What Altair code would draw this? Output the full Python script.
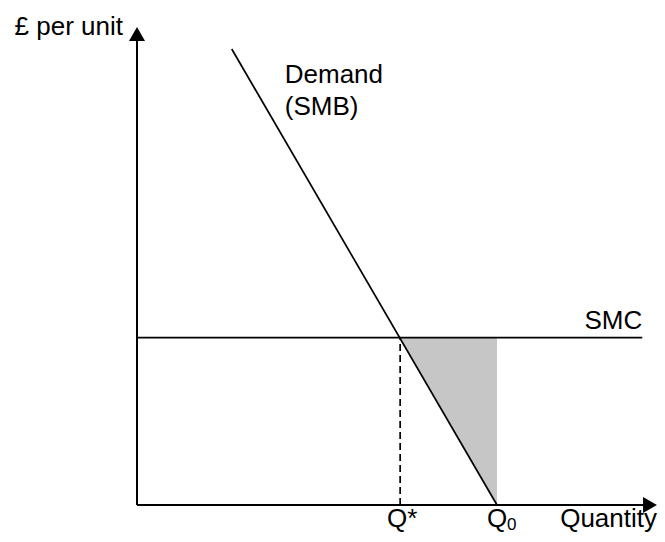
import altair as alt
import pandas as pd

# ---- data (economic units) ----
Q_MAX = 9.88          # end of quantity axis
P_MAX = 10.0          # end of price axis
Q_STAR = 5.0          # social optimum
Q_ZERO = 6.84         # market quantity where demand hits zero price
SMC = 3.5             # social marginal cost (flat)
SMC_END = 9.6         # extent of SMC line

demand_q = [1.8, 6.84]
demand_p = [9.54, 0.0]

shade_q = [Q_STAR, Q_ZERO]
shade_lo = [SMC, 0.0]
shade_hi = [SMC, SMC]

FONT = "Liberation Sans"
FS = 26

xs = alt.Scale(domain=[0, Q_MAX], nice=False, zero=False)
ys = alt.Scale(domain=[0, P_MAX], nice=False, zero=False)

def X(field, **kw):
    return alt.X(field, type="quantitative", scale=xs, axis=None, **kw)

def Y(field, **kw):
    return alt.Y(field, type="quantitative", scale=ys, axis=None, **kw)

# shaded deadweight-loss triangle
shade = alt.Chart(pd.DataFrame({"q": shade_q, "lo": shade_lo, "hi": shade_hi})).mark_area(
    color="#c6c6c6", opacity=1
).encode(x=X("q"), y=Y("lo"), y2="hi")

# demand line
demand = alt.Chart(pd.DataFrame({"q": demand_q, "p": demand_p})).mark_line(
    color="black", strokeWidth=1.7
).encode(x=X("q"), y=Y("p"))

# SMC line
smc = alt.Chart(pd.DataFrame({"q": [0.0, SMC_END], "p": [SMC, SMC]})).mark_line(
    color="black", strokeWidth=1.7
).encode(x=X("q"), y=Y("p"))

# dashed line at Q*
dash = alt.Chart(pd.DataFrame({"q": [Q_STAR], "lo": [0.0], "hi": [SMC]})).mark_rule(
    color="black", strokeWidth=1.7, strokeDash=[7, 4]
).encode(x=X("q"), y=Y("lo"), y2="hi")

# axes
yaxis = alt.Chart(pd.DataFrame({"q": [0.0], "lo": [0.0], "hi": [P_MAX]})).mark_rule(
    color="black", strokeWidth=2, y2Offset=8
).encode(x=X("q"), y=Y("lo"), y2="hi")

xaxis = alt.Chart(pd.DataFrame({"p": [0.0], "lo": [0.0], "hi": [Q_MAX]})).mark_rule(
    color="black", strokeWidth=2, x2Offset=-8
).encode(y=Y("p"), x=X("lo"), x2="hi")

yarrow = alt.Chart(pd.DataFrame({"q": [0.0], "p": [P_MAX]})).mark_point(
    shape="triangle-up", filled=True, size=256, color="black", opacity=1, yOffset=7
).encode(x=X("q"), y=Y("p"))

xarrow = alt.Chart(pd.DataFrame({"q": [Q_MAX], "p": [0.0]})).mark_point(
    shape="triangle-right", filled=True, size=256, color="black", opacity=1, xOffset=-7
).encode(x=X("q"), y=Y("p"))

def label(q, p, text, align="left", dx=0, dy=0, size=FS):
    return alt.Chart(pd.DataFrame({"q": [q], "p": [p], "t": [text]})).mark_text(
        font=FONT, fontSize=size, color="black", align=align, baseline="alphabetic",
        dx=dx, dy=dy
    ).encode(x=X("q"), y=Y("p"), text="t:N")

labels = [
    label(0.0, P_MAX, "£ per unit", align="right", dx=-14, dy=8),
    label(Q_MAX, 0.0, "Quantity", align="right", dx=0, dy=22),
    label(Q_STAR, 0.0, "Q*", align="center", dx=2, dy=22),
    label(Q_ZERO, 0.0, "Q", align="center", dx=0, dy=22),
    label(Q_ZERO, 0.0, "0", align="left", dx=10, dy=25, size=17),
    label(SMC_END, SMC, "SMC", align="right", dx=0, dy=-9),
    label(demand_q[0], demand_p[0], "Demand", align="left", dx=53, dy=34),
    label(demand_q[0], demand_p[0], "(SMB)", align="left", dx=53, dy=66),
]

chart = alt.layer(shade, demand, smc, dash, yaxis, xaxis, yarrow, xarrow, *labels).properties(
    width=520, height=478,
    autosize=alt.AutoSizeParams(type="none"),
    padding={"left": 129, "top": 19, "right": 0, "bottom": 29},
    background="white",
).configure_view(stroke=None)

chart.save("out.html", embed_options={"renderer": "svg", "actions": False})
